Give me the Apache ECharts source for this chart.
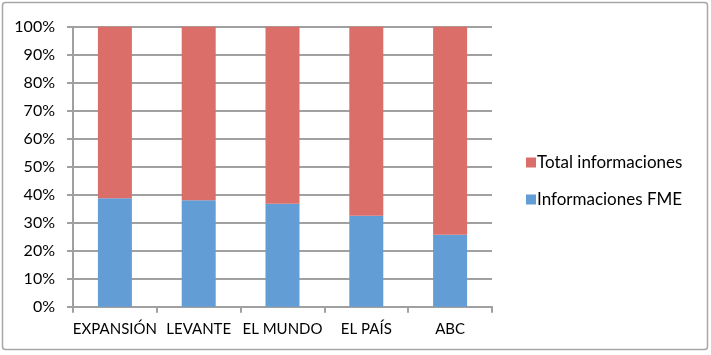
<!DOCTYPE html>
<html><head><meta charset="utf-8">
<script src="https://cdn.jsdelivr.net/npm/echarts@6/dist/echarts.min.js"></script>
<style>html,body{margin:0;padding:0;background:#fff}#c{width:711px;height:355px}</style>
</head><body><div id="c"></div>
<script>
const categories = ['EXPANSIÓN', 'LEVANTE', 'EL MUNDO', 'EL PAÍS', 'ABC'];
const fmeShare = [38.7, 38.0, 36.8, 32.5, 25.7];
const totalShare = [61.3, 62.0, 63.2, 67.5, 74.3];
const yTicks = [0, 10, 20, 30, 40, 50, 60, 70, 80, 90, 100];

const chart = echarts.init(document.getElementById('c'));
const font = 'Lato, "Open Sans", sans-serif';
chart.setOption({
  animation: false,
  graphic: [{type: 'rect', shape: {x: 2.5, y: 2.5, width: 705, height: 347, r: 3},
    style: {fill: 'none', stroke: '#a6a6a6', lineWidth: 1.5}}],
  grid: {left: 73, top: 26.7, width: 419, height: 280},
  legend: {
    orient: 'vertical', left: 521, top: 149, itemGap: 20,
    itemWidth: 10, itemHeight: 10, icon: 'rect',
    data: ['Total informaciones', 'Informaciones FME'],
    textStyle: {fontFamily: font, fontSize: 17, color: '#000', padding: [0, 0, 0, -4]}
  },
  xAxis: {
    type: 'category', data: categories,
    axisLine: {lineStyle: {color: '#a0a0a0', width: 2}},
    axisTick: {show: true, length: 6, lineStyle: {color: '#a0a0a0', width: 2}},
    axisLabel: {fontFamily: font, fontSize: 15, color: '#000', margin: 15, interval: 0}
  },
  yAxis: {
    type: 'value', min: 0, max: 100, interval: 10,
    axisLine: {show: true, lineStyle: {color: '#a0a0a0', width: 2}},
    axisTick: {show: true, inside: false, length: 6, lineStyle: {color: '#a0a0a0', width: 2}},
    splitLine: {lineStyle: {color: '#a0a0a0', width: 2}},
    axisLabel: {fontFamily: font, fontSize: 16, color: '#000', margin: 18,
      formatter: v => yTicks.includes(v) ? v + '%' : ''}
  },
  series: [
    {name: 'Informaciones FME', type: 'bar', stack: 's', data: fmeShare, barWidth: 34,
      itemStyle: {color: '#639dd5'}},
    {name: 'Total informaciones', type: 'bar', stack: 's', data: totalShare, barWidth: 34,
      itemStyle: {color: '#db6e69'}}
  ]
});
</script></body></html>
